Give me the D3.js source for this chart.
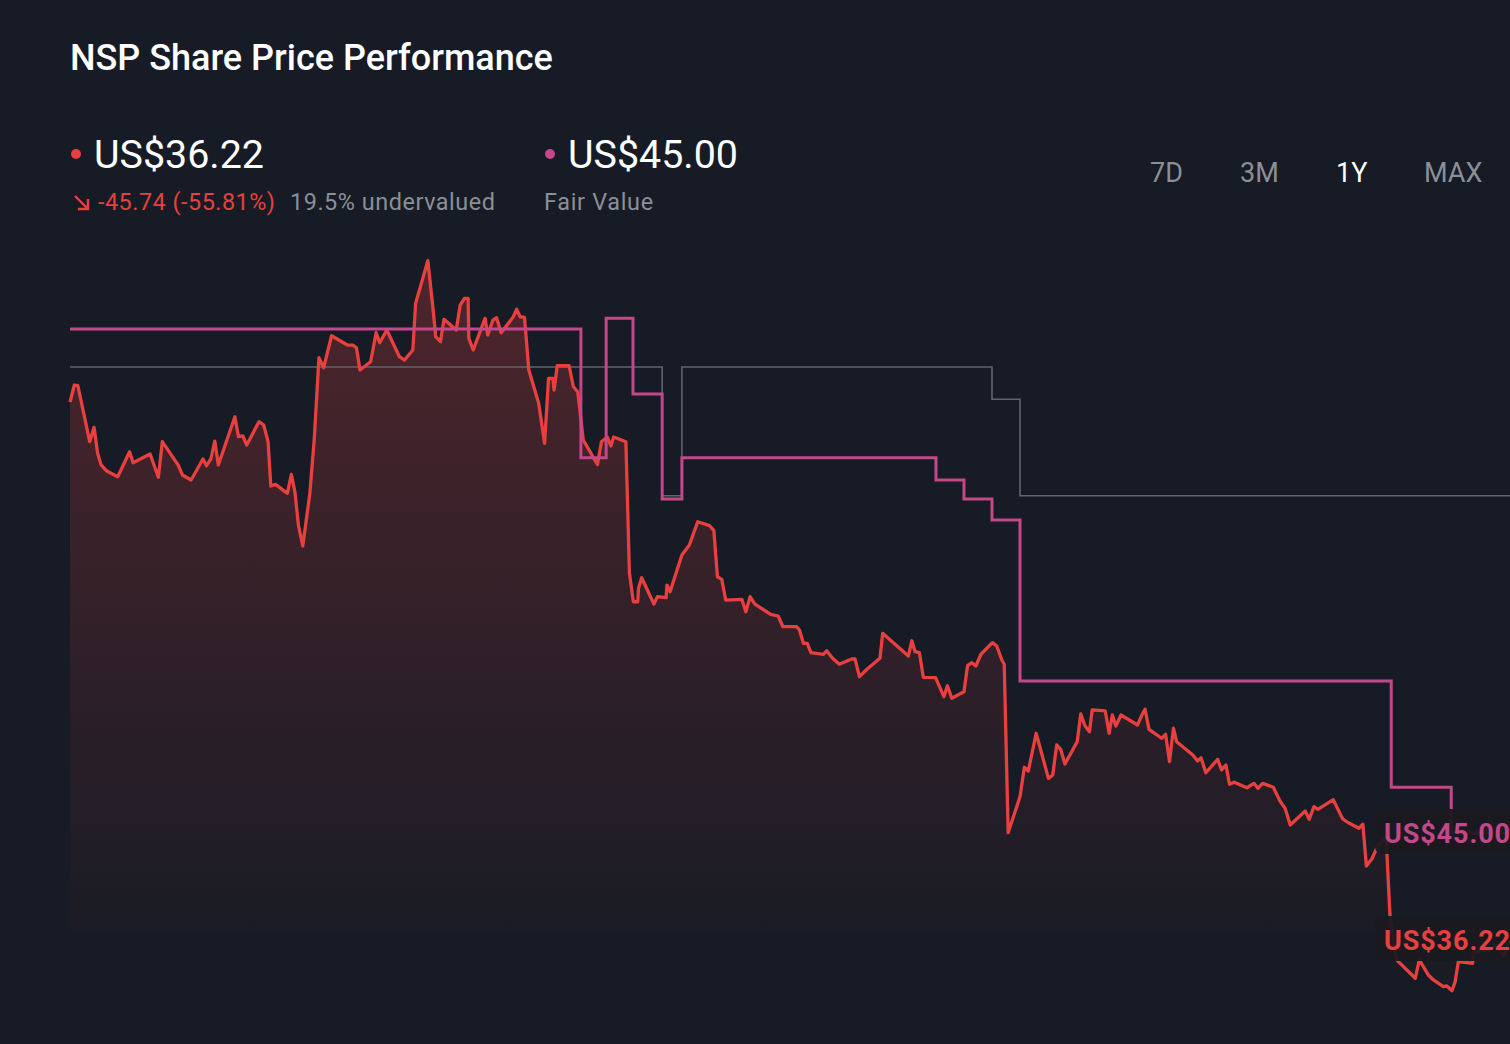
<!DOCTYPE html>
<html>
<head>
<meta charset="utf-8">
<script src="https://cdn.jsdelivr.net/npm/d3@7"></script>
<style>
  html, body { margin: 0; padding: 0; background: #161b25; overflow: hidden; }
  svg { display: block; font-family: Roboto, "Noto Sans", sans-serif; }
</style>
</head>
<body>
<div id="chart"></div>
<script>
// share price, days since start of the 1Y window
var priceDays = [0,1.1,2.0,5.0,6.1,7.0,7.9,9.2,12.1,15.1,16.0,20.3,22.4,23.4,27.4,28.5,30.7,33.7,34.6,35.7,
  36.7,37.6,41.8,42.7,43.8,44.8,47.9,49.1,50.2,50.9,52.1,55.1,56.1,57.0,57.9,59.0,60.8,61.9,63.1,64.3,
  66.3,70.3,71.7,72.6,73.5,76.2,77.6,78.5,80.3,83.5,84.8,86.9,87.6,90.7,92.1,92.7,93.9,94.8,97.9,98.9,
  100.0,100.9,101.1,102.2,105.2,105.9,107.2,108.1,109.3,112.3,113.2,114.1,115.2,116.3,118.8,120.3,121.3,122.4,122.7,123.5,
  126.5,127.6,128.7,130.1,133.7,134.7,136.2,137.1,137.8,140.9,141.8,142.8,143.9,144.1,144.9,148.0,148.9,151.1,151.3,152.1,
  155.1,157.0,159.1,162.1,163.2,164.1,165.2,166.2,170.3,171.3,172.4,173.6,177.6,179.5,180.7,184.2,184.9,185.9,186.9,187.8,
  191.0,191.8,193.3,195.0,198.1,199.0,200.1,202.0,205.3,206.0,208.7,212.5,213.4,214.2,215.3,216.3,219.4,221.5,222.4,223.5,
  226.6,227.5,228.6,229.6,230.9,233.8,234.9,236.2,236.8,237.8,240.8,241.9,242.9,244.9,248.0,249.1,250.1,251.1,252.2,255.3,
  256.2,257.3,258.4,259.1,262.4,263.4,264.2,265.1,266.4,270.6,271.7,272.5,273.5,276.7,277.7,278.7,279.7,280.5,284.6,285.8,
  286.7,287.9,290.9,291.9,293.0,293.9,295.1,298.3,300.1,301.1,302.3,305.0,306.7,308.0,309.3,313.1,314.1,315.3,316.3,320.2,
  322.6,323.8,326.7,327.7,328.6,330.0,331.6,333.6,334.6,336.3,336.7,341.0,342.0,344.3,345.6,348.1,349.0,350.3,351.1,351.9,
  355.5,355.9,359.5,361.5,363.3,365];
var priceValues = [80.35,81.75,81.69,77.10,78.28,76.15,75.19,74.72,74.23,76.28,75.37,76.09,74.18,77.10,75.19,74.37,73.96,75.68,75.13,75.68,
  77.15,75.19,79.15,77.51,77.57,76.83,78.74,78.47,77.10,73.46,73.60,72.86,74.42,73.00,70.26,68.54,72.86,77.24,83.99,83.17,
  85.79,85.03,85.03,84.81,82.98,83.66,86.04,85.22,86.26,84.07,83.80,84.62,88.45,91.95,87.76,85.71,85.30,87.14,86.26,88.31,
  88.86,88.86,85.58,84.62,87.22,85.85,87.08,87.27,86.04,87.30,87.96,87.35,87.30,82.98,80.25,76.97,82.30,82.30,81.34,83.33,
  83.33,81.61,81.20,77.24,75.23,77.10,77.48,76.75,77.48,77.10,66.30,63.97,63.97,65.07,65.94,63.78,64.38,64.30,65.34,64.79,
  67.80,68.62,70.53,70.21,69.80,66.02,65.81,64.11,64.17,63.15,64.38,63.78,62.94,62.80,61.92,61.92,61.65,60.56,60.56,59.79,
  59.66,59.95,59.33,58.84,59.27,59.27,57.82,58.43,59.33,61.38,60.61,59.52,60.77,59.87,59.79,57.77,57.74,56.18,57.08,56.05,
  56.59,58.72,58.97,58.70,59.66,60.61,60.34,59.19,58.84,45.02,47.98,50.39,50.08,53.18,49.48,49.76,52.22,51.86,50.66,52.49,
  54.76,53.78,53.31,55.09,55.01,53.18,54.68,53.78,54.68,53.86,54.68,55.15,53.50,52.77,53.09,50.85,53.59,52.49,51.40,50.90,
  51.17,49.94,51.04,50.17,50.58,48.99,49.16,48.71,49.07,48.66,49.07,48.75,47.62,47.02,45.65,46.80,46.12,47.16,46.94,47.73,
  46.15,45.88,45.38,45.72,42.29,42.88,44.01,44.59,38.13,34.58,34.44,33.08,34.58,33.35,32.94,32.39,32.45,32.06,32.80,34.44,
  34.31,35.24,35.40,35.81,34.91,36.22];

// fair value estimate (step line)
var fairDays   = [0, 129.5, 135.9, 142.7, 150.1, 155.1, 219.5, 226.6, 233.7, 240.8, 334.9, 350.1, 365];
var fairValues = [86.34, 75.79, 87.22, 81.01, 72.40, 75.79, 73.96, 72.40, 70.67, 57.47, 48.75, 45.00, 45.00];

// grey reference line (step)
var targetDays   = [0, 150.1, 155.1, 233.7, 240.8, 365];
var targetValues = [83.23, 72.67, 83.23, 80.58, 72.67, 72.67];

var periods = ["7D", "3M", "1Y", "MAX"];
var periodLeft = [1150, 1240, 1336, 1424];
var activePeriod = "1Y";

var lastPrice = 36.22, fairValue = 45.00;
var priceChange = "-45.74 (-55.81%)";
var undervalued = "19.5% undervalued";

var W = 1510, H = 1044;
var RED = "#e8403f", PINK = "#c2488a", GREY = "#5f646d";

document.addEventListener('DOMContentLoaded', function () {

var svg = d3.select("#chart").append("svg")
    .attr("width", W)
    .attr("height", H);

svg.append("rect").attr("width", W).attr("height", H).attr("fill", "#161b25");

var x = d3.scaleLinear().domain([0, 365]).range([70, 1510]);
var y = d3.scaleLinear().domain([30, 95]).range([1015.8, 223.5]);

var price = priceDays.map(function(d, i) { return {d: d, v: priceValues[i]}; });
var fair = fairDays.map(function(d, i) { return {d: d, v: fairValues[i]}; });
var target = targetDays.map(function(d, i) { return {d: d, v: targetValues[i]}; });

// gradient under the price line
var defs = svg.append("defs");
var grad = defs.append("linearGradient")
    .attr("id", "areaGrad")
    .attr("gradientUnits", "userSpaceOnUse")
    .attr("x1", 0).attr("x2", 0)
    .attr("y1", y(92)).attr("y2", y(37.04));
grad.append("stop").attr("offset", "0%").attr("stop-color", RED).attr("stop-opacity", 0.27);
grad.append("stop").attr("offset", "100%").attr("stop-color", RED).attr("stop-opacity", 0.02);

var g = svg.append("g");

g.append("path")
    .datum(price)
    .attr("fill", "url(#areaGrad)")
    .attr("d", d3.area()
        .x(function(d) { return x(d.d); })
        .y0(y(37.04))
        .y1(function(d) { return y(d.v); }));

g.append("path")
    .datum(target)
    .attr("fill", "none")
    .attr("stroke", GREY)
    .attr("stroke-width", 1.6)
    .attr("d", d3.line().curve(d3.curveStepAfter)
        .x(function(d) { return x(d.d); })
        .y(function(d) { return y(d.v); }));

g.append("path")
    .datum(price)
    .attr("fill", "none")
    .attr("stroke", RED)
    .attr("stroke-width", 3.3)
    .attr("stroke-linejoin", "round")
    .attr("d", d3.line()
        .x(function(d) { return x(d.d); })
        .y(function(d) { return y(d.v); }));

g.append("path")
    .datum(fair)
    .attr("fill", "none")
    .attr("stroke", PINK)
    .attr("stroke-width", 3)
    .attr("d", d3.line().curve(d3.curveStepAfter)
        .x(function(d) { return x(d.d); })
        .y(function(d) { return y(d.v); }));

// value tags on the right edge
var tags = [{v: fairValue, c: PINK}, {v: lastPrice, c: RED}];
var tag = svg.selectAll(".tag").data(tags).enter().append("g").attr("class", "tag");
tag.append("rect")
    .attr("x", 1375)
    .attr("y", function(d) { return y(d.v) - 24; })
    .attr("width", 160).attr("height", 45)
    .attr("rx", 7)
    .attr("fill", "#1c1a20")
    .attr("fill-opacity", 0.94);
tag.append("text")
    .attr("x", 1384)
    .attr("y", function(d) { return y(d.v) + 10; })
    .attr("fill", function(d) { return d.c; })
    .attr("font-size", 27)
    .attr("font-weight", 700)
    .attr("letter-spacing", 0.9)
    .text(function(d) { return "US$" + d.v.toFixed(2); });

// header
svg.append("text")
    .attr("x", 70).attr("y", 70)
    .attr("fill", "#ffffff")
    .attr("font-size", 36)
    .attr("font-weight", 500)
    .text("NSP Share Price Performance");

svg.append("circle").attr("cx", 76).attr("cy", 154).attr("r", 5).attr("fill", RED);
svg.append("text")
    .attr("x", 94).attr("y", 168)
    .attr("fill", "#ffffff")
    .attr("font-size", 39.4)
    .text("US$" + lastPrice.toFixed(2));

svg.append("circle").attr("cx", 550).attr("cy", 154).attr("r", 5).attr("fill", PINK);
svg.append("text")
    .attr("x", 568).attr("y", 168)
    .attr("fill", "#ffffff")
    .attr("font-size", 39.4)
    .text("US$" + fairValue.toFixed(2));

// down arrow icon
svg.append("path")
    .attr("d", "M75,196 L88,209 M78,209 L88,209 L88,199")
    .attr("fill", "none")
    .attr("stroke", RED)
    .attr("stroke-width", 2.4);

svg.append("text")
    .attr("x", 98).attr("y", 210)
    .attr("fill", RED)
    .attr("font-size", 23.4)
    .attr("letter-spacing", 0.5)
    .text(priceChange);

svg.append("text")
    .attr("x", 290).attr("y", 210)
    .attr("fill", "#8b8f97")
    .attr("font-size", 23.4)
    .attr("letter-spacing", 0.55)
    .text(undervalued);

svg.append("text")
    .attr("x", 544).attr("y", 210)
    .attr("fill", "#8b8f97")
    .attr("font-size", 23.4)
    .attr("letter-spacing", 0.7)
    .text("Fair Value");

svg.selectAll(".period").data(periods).enter().append("text")
    .attr("class", "period")
    .attr("x", function(d, i) { return periodLeft[i]; })
    .attr("y", 182)
    .attr("font-size", 27)
    .attr("fill", function(d) { return d === activePeriod ? "#ffffff" : "#8b8f97"; })
    .text(function(d) { return d; });

});
</script>
</body>
</html>
